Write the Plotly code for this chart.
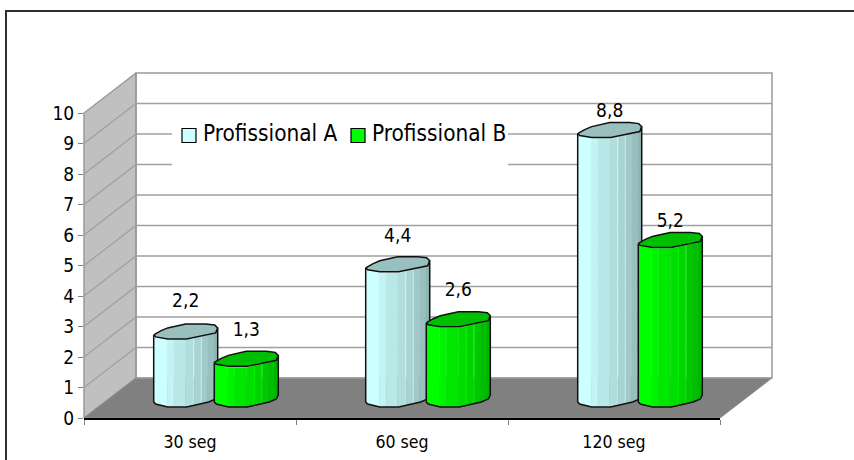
import numpy as np
import plotly.graph_objects as go

categories = ["30 seg", "60 seg", "120 seg"]
series_names = ["Profissional A", "Profissional B"]
values_a = [2.2, 4.4, 8.8]
values_b = [1.3, 2.6, 5.2]
y_ticks = list(range(0, 11))

# Extra lift of each value label above its bar top, in axis units
label_lift_a = [0.93, 0.86, 0.57]
label_lift_b = [0.89, 0.89, 0.55]

FONT = "DejaVu Sans Condensed, DejaVu Sans"
WIDTH, HEIGHT = 854, 460
PLOT_L, PLOT_R, PLOT_T, PLOT_B = 84, 720, 113, 418
UX = (PLOT_R - PLOT_L) / 3      # pixels per category
UY = (PLOT_B - PLOT_T) / 10     # pixels per value unit


def px_x(p):
    return (p - PLOT_L) / UX


def px_y(p):
    return (PLOT_B - p) / UY


# Oblique depth vector of the 3D box, in axis units
DX, DY = 52 / UX, 40 / UY
BAR_OFFSET = 30.3 / UX

# Outline of a bar cross-section as pixel offsets from its centre (y grows downward)
CAP_X = [-32, -25, -18, 0, 20, 29, 32, 30, 1, -18, -30]
CAP_Y = [4, 0, -3, -7, -7, -6, -3, 2, 8, 8, 6]
FRONT_X = [-32, -30, -18, 1, 23, 30, 32]
FRONT_Y = [4, 6, 9, 9, 4, 1, -3]

# Vertical shading bands across the bar, as fractions of its width
BAND_EDGES = [0, .21, .32, .5, .62, .635, .74, .755, .84, .93, 1]
BAND_SHADE = [1.0, .96, .91, .87, .97, .83, .95, .79, .75, .71]

WALL_GREY = "#999999"
palette_a = dict(base=(204, 255, 255), top="#99BFBF")
palette_b = dict(base=(0, 255, 0), top="#00BF00")

fig = go.Figure()


def poly(xs, ys, fill=None, line=None, width=1, closed=True):
    xs, ys = list(xs), list(ys)
    if closed:
        xs, ys = xs + xs[:1], ys + ys[:1]
    fig.add_trace(go.Scatter(
        x=xs, y=ys, mode="lines", hoverinfo="skip", showlegend=False,
        fill="toself" if fill else None, fillcolor=fill,
        line=dict(color=line or "rgba(0,0,0,0)", width=width if line else 0),
    ))


# Outer frame: top and left rules only
poly([px_x(6), px_x(6), px_x(860)], [px_y(470), px_y(11), px_y(11)], line="#303030", width=2, closed=False)

# Side wall, floor and back wall
poly([0, 0, DX, DX], [0, 10, 10 + DY, DY], fill="#C0C0C0", line=WALL_GREY, width=1.5)
poly([0, 3, 3 + DX, DX], [0, 0, DY, DY], fill="#808080", line="#8C8C8C", width=1)
poly([DX, DX, 3 + DX, 3 + DX], [DY, 10 + DY, 10 + DY, DY], line=WALL_GREY, width=1.5)

# Gridlines wrap from the side wall across the back wall
for v in y_ticks[1:-1]:
    poly([0, DX, 3 + DX], [v, v + DY, v + DY], line="#A0A0A0", width=1.3, closed=False)

# Clear area behind the legend
poly([px_x(172), px_x(508), px_x(508), px_x(172)],
     [px_y(172), px_y(172), px_y(118), px_y(118)], fill="white")


def cylinder(center, value, palette):
    cx = center + DX / 2
    cy = DY / 2
    fx = np.array(FRONT_X, dtype=float)
    fy = np.array(FRONT_Y, dtype=float)
    left, right = fx[0], fx[-1]

    def offset_y(px):
        return -np.interp(px, fx, fy) / UY

    # Body: one filled strip per shading band, following the front profile
    for k, shade in enumerate(BAND_SHADE):
        x0 = left + BAND_EDGES[k] * (right - left)
        x1 = left + BAND_EDGES[k + 1] * (right - left)
        inner = fx[(fx > x0) & (fx < x1)]
        pts = np.concatenate(([x0], inner, [x1]))
        xs = cx + pts / UX
        ys = cy + offset_y(pts)
        colour = "rgb({},{},{})".format(*[int(c * shade) for c in palette["base"]])
        poly(list(xs) + list(xs[::-1]), list(ys) + list(ys[::-1] + value), fill=colour, line=colour, width=0.4)

    # Cap, then the outline of the body
    poly(cx + np.array(CAP_X) / UX, cy + value - np.array(CAP_Y) / UY, fill=palette["top"], line="#101010", width=1.5)
    outline_x = [fx[0]] + list(fx) + [fx[-1]]
    poly(cx + np.array(outline_x) / UX,
         [cy + value + offset_y(fx[0])] + list(cy + offset_y(fx)) + [cy + value + offset_y(fx[-1])],
         line="#101010", width=1.5, closed=False)


for i in range(len(categories)):
    mid = i + 0.5
    cylinder(mid - BAR_OFFSET, values_a[i], palette_a)
    cylinder(mid + BAR_OFFSET, values_b[i], palette_b)

# Value labels sit above each bar, written with a decimal comma
for values, lifts, sign in ((values_a, label_lift_a, -1), (values_b, label_lift_b, 1)):
    fig.add_trace(go.Scatter(
        x=[i + 0.5 + sign * BAR_OFFSET + DX / 2 for i in range(len(values))],
        y=[v + DY / 2 + l for v, l in zip(values, lifts)],
        text=[str(v).replace(".", ",") for v in values],
        mode="text", textposition="middle center",
        textfont=dict(family=FONT, size=19, color="black"),
        hoverinfo="skip", showlegend=False,
    ))

# Legend entries: swatch and text placed separately
legend_swatch_px = [189, 358]
legend_text_px = [203, 372]
for name, palette, sx, tx in zip(series_names, (palette_a, palette_b), legend_swatch_px, legend_text_px):
    fig.add_trace(go.Scatter(
        x=[px_x(sx)], y=[px_y(135.5)], mode="markers", name=name,
        marker=dict(symbol="square", size=14, color="rgb({},{},{})".format(*palette["base"]),
                    line=dict(color="black", width=1.2)),
        hoverinfo="skip", showlegend=False, xaxis="x2", yaxis="y2",
    ))
    fig.add_trace(go.Scatter(
        x=[px_x(tx)], y=[px_y(135)], text=[name], mode="text", textposition="middle right",
        textfont=dict(family=FONT, size=22.4, color="black"),
        hoverinfo="skip", showlegend=False, xaxis="x2", yaxis="y2",
    ))

fig.update_layout(
    width=WIDTH, height=HEIGHT,
    margin=dict(l=0, r=0, t=0, b=0, autoexpand=False),
    paper_bgcolor="white", plot_bgcolor="rgba(0,0,0,0)",
    showlegend=False,
    # Full-canvas axes carry the 3D box at the same scale as the visible ones
    xaxis=dict(domain=[0, 1], range=[px_x(0), px_x(WIDTH)], visible=False),
    yaxis=dict(domain=[0, 1], range=[px_y(HEIGHT), px_y(0)], visible=False),
    xaxis2=dict(
        domain=[PLOT_L / WIDTH, PLOT_R / WIDTH], anchor="y2",
        range=[0, 3], showgrid=False, zeroline=False, showline=True, linecolor="black", linewidth=1.5,
        tickmode="array", tickvals=[0.5, 1.5, 2.5], ticktext=categories, ticks="",
        tickfont=dict(family=FONT, size=17.6, color="black"), ticklabelstandoff=7,
        minor=dict(tickmode="array", tickvals=[0, 1, 2, 3], ticks="outside", ticklen=5,
                   tickcolor="#808080", tickwidth=1),
    ),
    yaxis2=dict(
        domain=[1 - PLOT_B / HEIGHT, 1 - PLOT_T / HEIGHT], anchor="x2",
        range=[0, 10], tickmode="array", tickvals=y_ticks, showgrid=False, zeroline=False, showline=False,
        ticks="outside", ticklen=5, tickcolor="#808080", tickwidth=1,
        tickfont=dict(family=FONT, size=19, color="black"),
    ),
)

fig.write_html("out.html")
